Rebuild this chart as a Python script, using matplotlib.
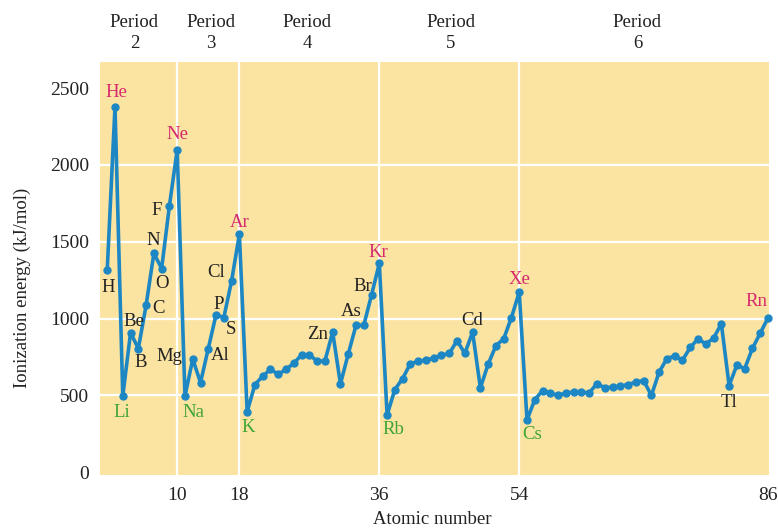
import numpy as np
import matplotlib
matplotlib.use("Agg")
import matplotlib.pyplot as plt
import matplotlib.transforms as mtransforms

plt.rcParams["font.family"] = ["Liberation Serif", "DejaVu Serif"]

# first ionization energies (kJ/mol), Z = 1..86
atomic_number = np.arange(1, 87)
energy = [
    1316, 2379,                                                   # period 1
    496, 908, 805, 1086, 1425, 1326, 1734, 2098,                  # period 2
    496, 736, 584, 805, 1026, 1007, 1246, 1549,                   # period 3
    394, 571, 624, 670, 637, 670, 709, 764, 764, 723, 723, 912,   # period 4
    575, 769, 956, 956, 1154, 1359,
    373, 538, 610, 707, 721, 731, 742, 762, 773, 857, 773, 912,   # period 5
    549, 703, 824, 868, 1007, 1172,
    341, 472, 531, 516, 500, 516, 522, 522, 516, 577, 549, 555,   # period 6
    560, 571, 586, 597, 500, 652, 740, 757, 729, 812, 868, 835,
    872, 967, 564, 698, 674, 806, 905, 1004,
]

# labelled elements: (Z, symbol, colour kind, offset in pixels)
labels = [
    (1, "H", "k", (1, -17)), (2, "He", "n", (1, 14)), (3, "Li", "a", (-1, -16)),
    (4, "Be", "k", (3, 11)), (5, "B", "k", (2, -14)), (6, "C", "k", (12, -3)),
    (7, "N", "k", (-1, 13)), (8, "O", "k", (0, -15)), (9, "F", "k", (-13, -5)),
    (10, "Ne", "n", (0, 15)), (11, "Na", "a", (8, -16)), (12, "Mg", "k", (-23, 3)),
    (14, "Al", "k", (12, -7)), (15, "P", "k", (3, 10)), (16, "S", "k", (7, -12)),
    (17, "Cl", "k", (-15, 8)), (18, "Ar", "n", (0, 12)), (19, "K", "a", (1, -16)),
    (30, "Zn", "k", (-15, -2)), (33, "As", "k", (-5, 14)), (35, "Br", "k", (-9, 8)),
    (36, "Kr", "n", (-1, 11)), (37, "Rb", "a", (6, -15)), (48, "Cd", "k", (0, 12)),
    (54, "Xe", "n", (0, 13)), (55, "Cs", "a", (5, -15)), (81, "Tl", "k", (0, -17)),
    (86, "Rn", "n", (-12, 16)),
]
label_colors = {"k": "#222222", "n": "#d62a6e", "a": "#3fa535"}

period_names = ["Period\n2", "Period\n3", "Period\n4", "Period\n5", "Period\n6"]
period_centers = [4.5, 14.3, 26.7, 45.2, 69.2]
period_bounds = [10, 18, 36, 54]

xtick_vals = [10, 18, 36, 54, 86]
ytick_vals = [0, 500, 1000, 1500, 2000, 2500]

fig = plt.figure(figsize=(7.78, 5.29), dpi=100)
ax = fig.add_axes([100 / 778, 1 - 475 / 529, 669 / 778, 413 / 529])
ax.set_facecolor("#fbe3a1")

for y in [500, 1000, 1500, 2000]:
    ax.axhline(y, color="white", lw=1.6, zorder=1)
for x in period_bounds:
    ax.axvline(x, color="white", lw=1.6, zorder=1)

ax.plot(atomic_number, energy, color="#1d87c4", lw=2.6, marker="o",
        markersize=5, zorder=3, clip_on=False)

for z, sym, kind, off in labels:
    ax.annotate(sym, (z, energy[z - 1]), xytext=off, textcoords="offset pixels",
                ha="center", va="center", fontsize=13.5,
                color=label_colors[kind], zorder=4)

ax.set_xlim(0.07, 86.13)
ax.set_ylim(-18, 2670)
ax.set_xticks(xtick_vals)
ax.set_yticks(ytick_vals)
ax.tick_params(length=0, labelsize=14, colors="#222222")
ax.tick_params(axis="x", pad=9)
ax.tick_params(axis="y", pad=8)
for s in ax.spines.values():
    s.set_visible(False)

trans = mtransforms.blended_transform_factory(ax.transData, ax.transAxes)
for name, xc in zip(period_names, period_centers):
    ax.text(xc, 1 + 29 / 413, name, transform=trans, ha="center", va="center",
            fontsize=13.5, linespacing=1.25, color="#222222")

fig.text(22 / 778, 1 - 288 / 529, "Ionization energy (kJ/mol)", rotation=90,
         ha="center", va="center", fontsize=13.5, color="#222222")
fig.text(432 / 778, 1 - 519 / 529, "Atomic number", ha="center", va="center",
         fontsize=13.5, color="#222222")

fig.savefig("out.png", dpi=100)
